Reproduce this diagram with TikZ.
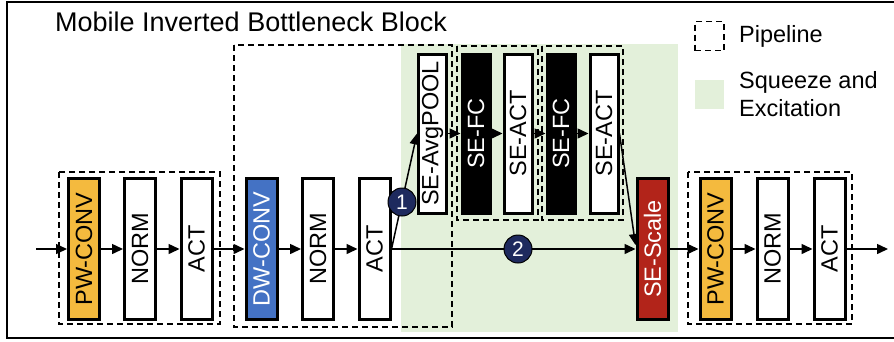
\documentclass[tikz,border=0pt]{standalone}
\usepackage{fontspec}
\setmainfont{Liberation Sans}
\usepackage{tikz}
\usetikzlibrary{positioning,arrows.meta,calc,backgrounds}
\definecolor{pwnaranja}{RGB}{244,186,62}
\definecolor{dwazul}{RGB}{68,114,196}
\definecolor{serojo}{RGB}{178,36,26}
\definecolor{sefondo}{RGB}{227,240,218}
\definecolor{azulnum}{RGB}{30,42,94}

\begin{document}
\begin{tikzpicture}[x=1pt, y=-1pt,
  capa/.style={draw, line width=3pt, rotate=90, minimum width=141pt,
               minimum height=31pt, inner sep=0pt,
               font=\fontsize{23.5}{26}\selectfont},
  capase/.style={capa, minimum width=159pt, minimum height=28pt},
  tubo/.style={dash pattern=on 6pt off 4pt, line width=1.5pt},
  flecha/.style={-{Triangle[length=11pt,width=10pt]}, line width=1.5pt},
  num/.style={circle, fill=azulnum, draw=black, line width=1pt,
              minimum size=28pt, inner sep=0pt, text=white,
              font=\fontsize{21}{21}\selectfont},
  leyenda/.style={anchor=west, inner sep=0pt, align=left,
                  font=\fontsize{23.5}{28}\selectfont}]
  \useasboundingbox (0,0) rectangle (894,341);
  \draw[line width=2.5pt] (7,2) rectangle (900,338);
  \node[anchor=base west, inner sep=0pt, font=\fontsize{27}{30}\selectfont]
    (titulo) at (55,31) {Mobile Inverted Bottleneck Block};

  \fill[sefondo] (401,44) rectangle (678,332);
  \draw[tubo] (59,172) rectangle (220,324);
  \draw[tubo] (234,45) rectangle (452,327);
  \draw[tubo] (457,46) rectangle (538,220);
  \draw[tubo] (542,46) rectangle (623,220);
  \draw[tubo] (688,172) rectangle (852,324);

  \node[capa, fill=pwnaranja] (pw1) at (84,249) {PW-CONV};
  \node[capa, fill=white] (norm1) at (140,249) {NORM};
  \node[capa, fill=white] (act1) at (196.5,249) {ACT};
  \node[capa, fill=dwazul, text=white] (dw) at (261.5,249) {DW-CONV};
  \node[capa, fill=white] (norm2) at (318,249) {NORM};
  \node[capa, fill=white] (act2) at (374.5,249) {ACT};
  \node[capase, fill=white] (pool) at (432.5,133.5) {SE-AvgPOOL};
  \node[capase, fill=black, text=white] (fc1) at (476,133.5) {SE-FC};
  \node[capase, fill=white] (seact1) at (518,133.5) {SE-ACT};
  \node[capase, fill=black, text=white] (fc2) at (561,133.5) {SE-FC};
  \node[capase, fill=white] (seact2) at (604,133.5) {SE-ACT};
  \node[capa, fill=serojo, text=white] (scale) at (652.5,249) {SE-Scale};
  \node[capa, fill=pwnaranja] (pw2) at (715.5,249) {PW-CONV};
  \node[capa, fill=white] (norm3) at (772.5,249) {NORM};
  \node[capa, fill=white] (act3) at (829.5,249) {ACT};

  \coordinate (entrada) at (36,249);
  \coordinate (salida) at (888,249);
  \draw[flecha] (entrada) -- (pw1);
  \draw[flecha] (pw1) -- (norm1);
  \draw[flecha] (norm1) -- (act1);
  \draw[flecha] (act1) -- (dw);
  \draw[flecha] (dw) -- (norm2);
  \draw[flecha] (norm2) -- (act2);
  \draw[flecha] (act2) -- (scale);
  \draw[flecha] (act2.south) -- (pool.north);
  \draw[flecha] (pool) -- (fc1);
  \draw[flecha] (fc1) -- (seact1);
  \draw[flecha] (seact1) -- (fc2);
  \draw[flecha] (fc2) -- (seact2);
  \draw[flecha] (seact2.south) -- ($(scale.north)+(0,-4)$);
  \draw[flecha] (scale) -- (pw2);
  \draw[flecha] (pw2) -- (norm3);
  \draw[flecha] (norm3) -- (act3);
  \draw[flecha] (act3) -- (salida);

  \node[num] (uno) at (402,202) {1};
  \node[num] (dos) at (518,249) {2};

  \node[tubo, draw, minimum size=29pt, inner sep=0pt] (legtubo) at (709.5,36) {};
  \node[fill=sefondo, minimum size=29pt, inner sep=0pt] (legse) at (709.5,94.5) {};
  \node[leyenda] (txtubo) at (739,36) {Pipeline};
  \node[leyenda] (txse) at (739,94) {Squeeze and\\Excitation};
\end{tikzpicture}
\end{document}
